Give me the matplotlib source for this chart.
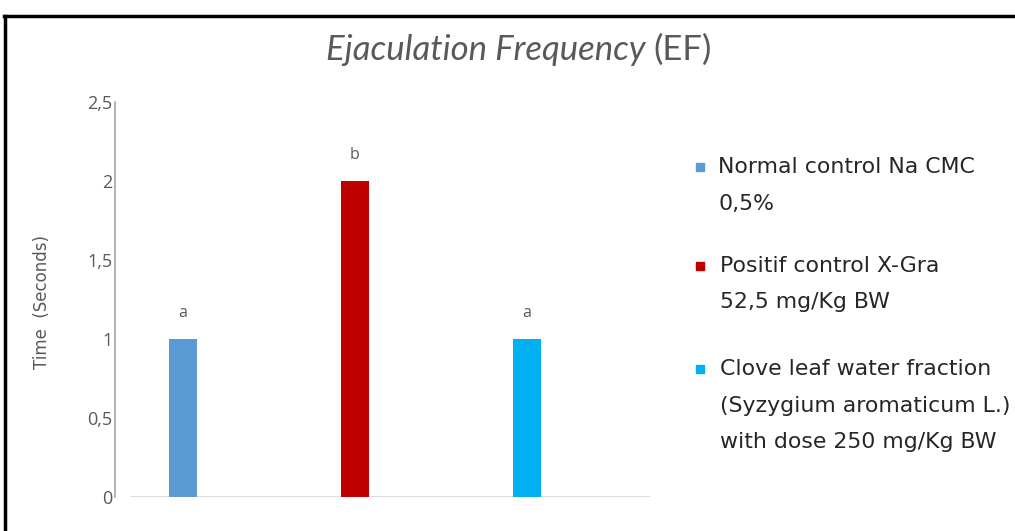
import matplotlib
matplotlib.use("Agg")
import matplotlib.pyplot as plt
from matplotlib.lines import Line2D

# ---- data ----
categories = ["Normal control Na CMC\n0,5%",
              "Positif control X-Gra\n52,5 mg/Kg BW",
              "Clove leaf water fraction\n(Syzygium aromaticum L.)\nwith dose 250 mg/Kg BW"]
values = [1.0, 2.0, 1.0]
letters = ["a", "b", "a"]
colors = ["#5B9BD5", "#C00000", "#00B0F0"]
yticks = [0, 0.5, 1, 1.5, 2, 2.5]
ytick_labels = ["0", "0,5", "1", "1,5", "2", "2,5"]

W, H = 1015, 531
fig = plt.figure(figsize=(W / 100, H / 100), dpi=100)
fig.patch.set_facecolor("white")

# axes placement in pixels
ax_l, ax_r, ax_b, ax_t = 115, 650, 497, 102
ax = fig.add_axes([ax_l / W, (H - ax_b) / H, (ax_r - ax_l) / W, (ax_b - ax_t) / H])

gray = "#595959"
x = list(range(len(values)))
ax.bar(x, values, width=0.168, color=colors, zorder=3)
ax.set_xlim(-0.395, 2.715)
ax.set_ylim(0, 2.5)

for xi, v, lab in zip(x, values, letters):
    ax.annotate(lab, (xi, v), xytext=(0, 13), textcoords="offset points",
                ha="center", va="bottom", fontsize=11.5, color=gray,
                family="Open Sans")

ax.set_yticks(yticks)
ax.set_yticklabels(ytick_labels, family="Open Sans", fontsize=13, color=gray)
ax.tick_params(axis="y", length=0, pad=2)
ax.set_xticks([])
for s in ["top", "right", "bottom"]:
    ax.spines[s].set_visible(False)
ax.spines["left"].set_color("#a6a6a6")
ax.spines["left"].set_linewidth(1.2)
ax.axhline(0, xmin=(131 - ax_l) / (ax_r - ax_l), xmax=1, color="#d9d9d9", lw=2, zorder=2)

fig.text(42 / W, 1 - 302 / H, "Time  (Seconds)", rotation=90, ha="center", va="center",
         fontsize=12, color=gray, family="DejaVu Sans")

# title
fig.text(646 / W, 1 - 50 / H, "Ejaculation Frequency", ha="right", va="center",
         fontsize=25, style="italic", color=gray, family="Lato")
fig.text(653 / W, 1 - 50 / H, "(EF)", ha="left", va="center",
         fontsize=25, color=gray, family="Lato")

# legend (manual)
leg_y = [167, 266, 369]
text_x = [718, 720, 720]
line_h = 36.5
for lab, c, yy, tx in zip(categories, colors, leg_y, text_x):
    fig.add_artist(Line2D([700 / W], [1 - yy / H], marker="s", markersize=5.8,
                          color=c, linestyle="none"))
    for k, line in enumerate(lab.split("\n")):
        fig.text(tx / W, 1 - (yy + k * line_h) / H, line, ha="left", va="center",
                 fontsize=15.8, color="#262626", family="DejaVu Sans")

# black frame (top and left)
fig.add_artist(Line2D([4 / W, 1], [1 - 16 / H, 1 - 16 / H], color="black", lw=2.5))
fig.add_artist(Line2D([5 / W, 5 / W], [0, 1 - 16 / H], color="black", lw=2.5))

fig.savefig("out.png", dpi=100, facecolor="white")
